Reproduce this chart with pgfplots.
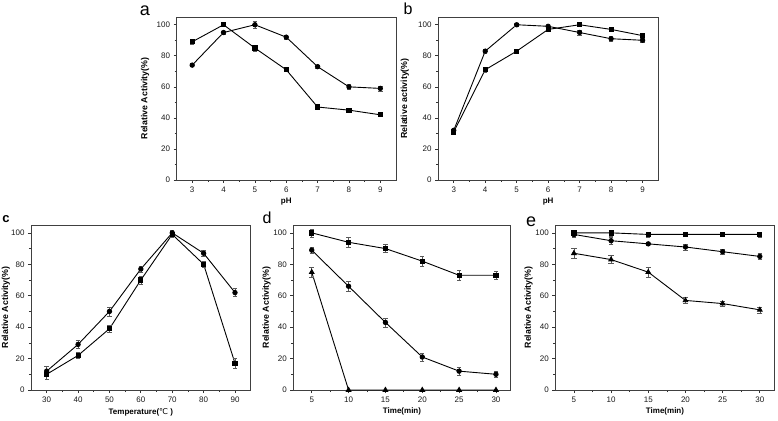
\documentclass[border=0pt]{standalone}
\usepackage{fontspec}
\setmainfont{Liberation Sans}
\newfontfamily\dejavu{DejaVu Sans}
\usepackage{pgfplots}
\pgfplotsset{compat=1.18}
\newcommand\labfont{\fontsize{8}{9}\bfseries\selectfont}
\newcommand\ylabfont{\fontsize{8.8}{9}\bfseries\selectfont}
\pgfplotsset{
  panel/.style={
    scale only axis, anchor=south west,
    ymin=0, ymax=105, ytick={0,20,...,100}, minor y tick num=1, minor x tick num=1,
    tick align=outside, xtick pos=bottom, ytick pos=left,
    major tick length=3pt, minor tick length=2pt,
    tick label style={font=\fontsize{8}{8}\selectfont, black!90},
    /pgf/number format/assume math mode=true,
    axis line style={line width=0.8pt, black!75},
    every tick/.style={black!80, line width=0.7pt},
    every axis x label/.style={at={(axis description cs:0.5,0)}, anchor=north, yshift=-18pt, inner sep=0pt, font=\labfont},
  },
  ylpos/.style={every axis y label/.style={at={(axis description cs:#1,0.5)}, anchor=center, rotate=90, font=\ylabfont}},
  ser/.style={black, line width=0.9pt, mark size=#1, mark options={solid, fill=black},
    error bars/y dir=both, error bars/y explicit, error bars/error bar style={line width=0.6pt, black!65}},
  sq/.style={ser=2.1pt, mark=square*},
  ci/.style={ser=2.2pt, mark=*},
  tr/.style={ser=2.6pt, mark=triangle*},
}
\begin{document}
\begin{tikzpicture}
\useasboundingbox (0,0) rectangle (778pt,420pt);
% ---- panel a
\begin{axis}[panel, at={(176.5pt,240pt)}, width=219.5pt, height=163pt,
  xmin=2.5, xmax=9.5, xtick={3,...,9}, xlabel={pH}, ylabel={Relative Activity(\%)}, ylpos=-0.143]
\addplot[sq] coordinates {(3,89) +- (0,1.5) (4,100) +- (0,1) (5,85) +- (0,2) (6,71) +- (0,1) (7,47) +- (0,1.5) (8,45) +- (0,1) (9,42) +- (0,1)};
\addplot[ci] coordinates {(3,74) +- (0,1) (4,95) +- (0,1) (5,100) +- (0,2) (6,92) +- (0,1) (7,73) +- (0,1) (8,60) +- (0,1.5) (9,59) +- (0,1.5)};
\end{axis}
% ---- panel b
\begin{axis}[panel, at={(438pt,240pt)}, width=220.3pt, height=163pt,
  xmin=2.5, xmax=9.5, xtick={3,...,9}, xlabel={pH}, ylabel={Relative activity(\%)}, ylpos=-0.15]
\addplot[ci] coordinates {(3,32) +- (0,1.5) (4,83) +- (0,1.5) (5,100) +- (0,1) (6,99) +- (0,1) (7,95) +- (0,1.5) (8,91) +- (0,1.5) (9,90) +- (0,1.5)};
\addplot[sq] coordinates {(3,31) +- (0,1.5) (4,71) +- (0,1.5) (5,83) +- (0,1.5) (6,97) +- (0,1) (7,100) +- (0,1) (8,97) +- (0,1) (9,93) +- (0,1.5)};
\end{axis}
% ---- panel c
\begin{axis}[panel, at={(31pt,30pt)}, width=219.7pt, height=165pt,
  xmin=25, xmax=95, xtick={30,40,...,90}, xlabel={Temperature({\dejavu\mdseries ℃} )}, ylabel={Relative Activity(\%)}, ylpos=-0.114]
\addplot[ci] coordinates {(30,12) +- (0,3) (40,29) +- (0,2.5) (50,50) +- (0,3) (60,77) +- (0,2) (70,100) +- (0,2) (80,87) +- (0,2) (90,62) +- (0,2.5)};
\addplot[sq] coordinates {(30,10) +- (0,3) (40,22) +- (0,2) (50,39) +- (0,2.5) (60,70) +- (0,2.5) (70,99) +- (0,2) (80,80) +- (0,2) (90,17) +- (0,3)};
\end{axis}
% ---- panel d
\begin{axis}[panel, at={(293.3pt,30pt)}, width=217.4pt, height=165pt,
  xmin=2.5, xmax=32, xtick={5,10,...,30}, xlabel={Time(min)}, ylabel={Relative Activity(\%)}, ylpos=-0.123]
\addplot[sq] coordinates {(5,100) +- (0,2.5) (10,94) +- (0,3) (15,90) +- (0,2.5) (20,82) +- (0,3) (25,73) +- (0,3) (30,73) +- (0,2.5)};
\addplot[ci] coordinates {(5,89) +- (0,2) (10,66) +- (0,3) (15,43) +- (0,3) (20,21) +- (0,2.5) (25,12) +- (0,2.5) (30,10) +- (0,2)};
\addplot[tr] coordinates {(5,75) +- (0,3) (10,0) (15,0) (20,0) (25,0) (30,0)};
\end{axis}
% ---- panel e
\begin{axis}[panel, at={(555.3pt,30pt)}, width=219.4pt, height=165pt,
  xmin=2.5, xmax=32, xtick={5,10,...,30}, xlabel={Time(min)}, ylabel={Relative Activity(\%)}, ylpos=-0.122]
\addplot[sq] coordinates {(5,100) +- (0,2) (10,100) +- (0,2) (15,99) +- (0,1.5) (20,99) +- (0,1) (25,99) +- (0,1) (30,99) +- (0,1.5)};
\addplot[ci] coordinates {(5,99) +- (0,1.5) (10,95) +- (0,2) (15,93) +- (0,1) (20,91) +- (0,2) (25,88) +- (0,1.5) (30,85) +- (0,2)};
\addplot[tr] coordinates {(5,87) +- (0,3) (10,83) +- (0,2.5) (15,75) +- (0,3) (20,57) +- (0,2) (25,55) +- (0,1.5) (30,51) +- (0,2)};
\end{axis}
% ---- panel letters
\node[font=\fontsize{18}{18}\selectfont, inner sep=0pt] at (145pt,409pt) {a};
\node[font=\fontsize{16}{16}\selectfont, inner sep=0pt] at (408pt,411pt) {b};
\node[font=\bfseries\fontsize{13}{13}\selectfont, inner sep=0pt] at (6pt,200.5pt) {c};
\node[font=\fontsize{16}{16}\selectfont, inner sep=0pt] at (267pt,202pt) {d};
\node[font=\fontsize{18}{18}\selectfont, inner sep=0pt] at (531pt,198.5pt) {e};
\end{tikzpicture}
\end{document}
